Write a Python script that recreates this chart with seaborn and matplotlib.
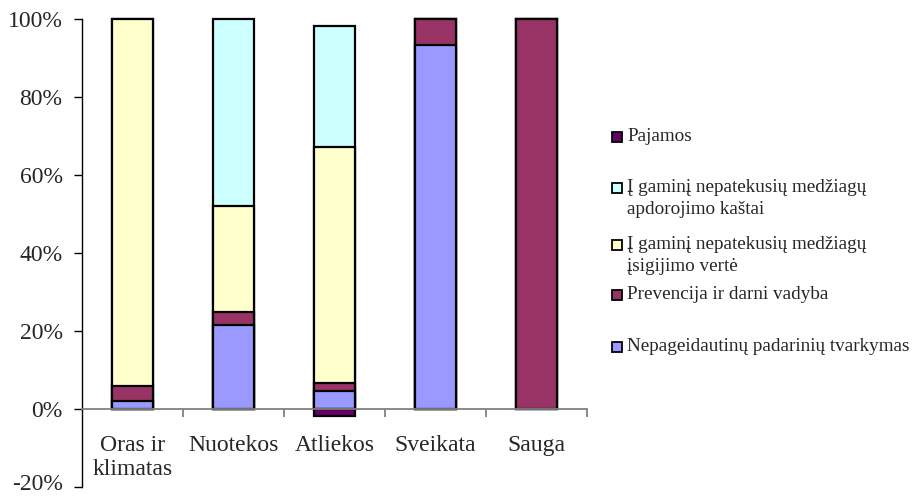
import numpy as np
import pandas as pd
import matplotlib.pyplot as plt
import matplotlib.transforms as mtransforms
import seaborn as sns
from matplotlib.patches import Rectangle
from matplotlib.ticker import FixedLocator

sns.set_style("white")
plt.rcParams['font.family'] = ['Liberation Serif', 'DejaVu Serif']

# ── Data ────────────────────────────────────────────────────────────────
categories = ["Oras ir\nklimatas", "Nuotekos", "Atliekos", "Sveikata", "Sauga"]
nepageid   = [2.0, 21.5, 4.6, 93.4, 0.0]     # Nepageidautinų padarinių tvarkymas
prevencija = [4.0, 3.5, 2.0, 6.6, 100.0]     # Prevencija ir darni vadyba
isigijimo  = [94.0, 27.0, 60.7, 0.0, 0.0]    # Į gaminį ... įsigijimo vertė
apdorojimo = [0.0, 48.0, 31.0, 0.0, 0.0]     # Į gaminį ... apdorojimo kaštai
pajamos    = [0.0, 0.0, -1.8, 0.0, 0.0]      # Pajamos

values = [nepageid, prevencija, isigijimo, apdorojimo]
colors = ["#9999FF", "#993366", "#FFFFCC", "#CCFFFF"]
paj_color = "#660066"

legend_labels = ["Pajamos",
                 "Į gaminį nepatekusių medžiagų\napdorojimo kaštai",
                 "Į gaminį nepatekusių medžiagų\nįsigijimo vertė",
                 "Prevencija ir darni vadyba",
                 "Nepageidautinų padarinių tvarkymas"]
legend_colors = [paj_color, "#CCFFFF", "#FFFFCC", "#993366", "#9999FF"]

# ── Plot ────────────────────────────────────────────────────────────────
fig = plt.figure(figsize=(9.24, 4.97), dpi=100)
ax = fig.add_axes([82/924, 1-487/497, 505/924, 468/497])

cum = np.cumsum(np.array(values), axis=0)
# draw the tallest cumulative stack first, lower ones over it
for i in range(len(values)-1, -1, -1):
    df = pd.DataFrame({"cat": categories, "val": cum[i]})
    sns.barplot(data=df, x="cat", y="val", color=colors[i], saturation=1,
                width=0.41, edgecolor="black", linewidth=1.6, ax=ax)
df = pd.DataFrame({"cat": categories, "val": pajamos})
sns.barplot(data=df, x="cat", y="val", color=paj_color, saturation=1,
            width=0.41, edgecolor="black", linewidth=1.6, ax=ax)
for p in ax.patches:
    p.set_clip_on(False)
    if abs(p.get_height()) < 1e-9:
        p.set_visible(False)

ax.set_xlim(-0.5, 4.5)
ax.set_ylim(-20, 100)
ax.set_yticks(np.arange(-20, 101, 20))
ax.set_yticklabels([f"{v}%" for v in range(-20, 101, 20)])
ax.set_xlabel("")
ax.set_ylabel("")

for s in ["top", "right"]:
    ax.spines[s].set_visible(False)
ax.spines["left"].set_color("black")
ax.spines["left"].set_linewidth(1.0)
ax.spines["bottom"].set_position(("data", 0))
ax.spines["bottom"].set_color("#808080")
ax.spines["bottom"].set_linewidth(1.3)

ax.tick_params(axis="y", which="major", direction="out", length=6, width=1,
               color="black", labelsize=17, pad=8, left=True)
ax.tick_params(axis="x", which="major", length=0, labelsize=17, pad=19)
ax.xaxis.set_minor_locator(FixedLocator(np.arange(0.5, 4.6, 1.0)))
ax.tick_params(axis="x", which="minor", direction="out", length=6, width=1.3,
               color="#808080", bottom=True)
for lbl in ax.get_xticklabels():
    lbl.set_linespacing(1.15)

# nudge the lowest y label up so it stays inside the figure
low = ax.get_yticklabels()[0]
low.set_transform(low.get_transform() +
                  mtransforms.ScaledTranslation(0, 5/100, fig.dpi_scale_trans))

# ── Legend (drawn by hand to match the layout) ──────────────────────────
leg_y = [137, 188, 245, 295, 347]
for y, lab, col in zip(leg_y, legend_labels, legend_colors):
    fig.patches.append(Rectangle((612/924, 1-(y+5)/497), 10/924, 10/497,
                                 transform=fig.transFigure, facecolor=col,
                                 edgecolor="black", linewidth=1.3))
    fig.text(627/924, 1-(y-9)/497, lab, fontsize=13.8, va="top", ha="left",
             linespacing=1.4)

fig.savefig("out.png", dpi=100)
